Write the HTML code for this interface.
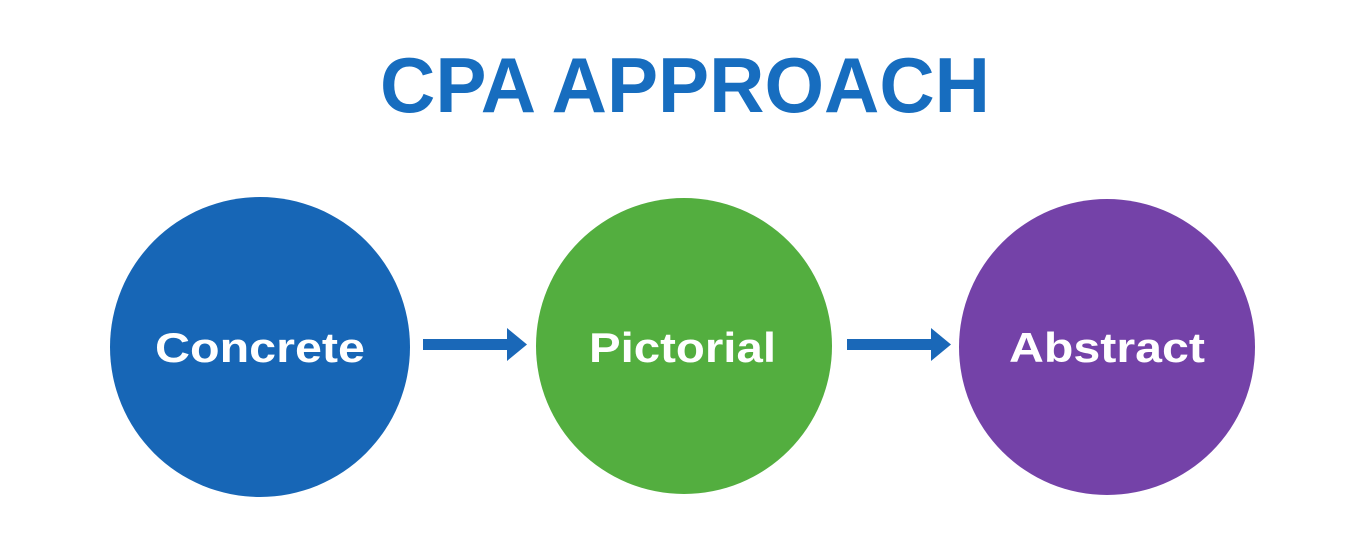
<!DOCTYPE html>
<html><head><meta charset="utf-8"><style>
html,body{margin:0;padding:0;background:#fff;}
svg{display:block;}
text{font-family:"Liberation Sans",sans-serif;font-weight:bold;}
</style></head><body>
<svg width="1370" height="550" viewBox="0 0 1370 550" xmlns="http://www.w3.org/2000/svg">
<rect width="1370" height="550" fill="#fff"/>
<text x="380" y="112" font-size="78" fill="#176dbf" textLength="610" lengthAdjust="spacingAndGlyphs">CPA APPROACH</text>
<circle cx="260" cy="347" r="150" fill="#1766b6"/>
<circle cx="684" cy="346" r="148" fill="#53ae3f"/>
<circle cx="1107" cy="347" r="148" fill="#7442a8"/>
<text x="155" y="362" font-size="42" fill="#fff" textLength="210" lengthAdjust="spacingAndGlyphs">Concrete</text>
<text x="589" y="362" font-size="42" fill="#fff" textLength="187" lengthAdjust="spacingAndGlyphs">Pictorial</text>
<text x="1009" y="362" font-size="42" fill="#fff" textLength="196" lengthAdjust="spacingAndGlyphs">Abstract</text>
<g fill="#1a68b8">
<rect x="423" y="339" width="87" height="11"/>
<polygon points="507,328 527,344.5 507,361"/>
<rect x="847" y="339" width="87" height="11"/>
<polygon points="931,328 951,344.5 931,361"/>
</g>
</svg>
</body></html>
